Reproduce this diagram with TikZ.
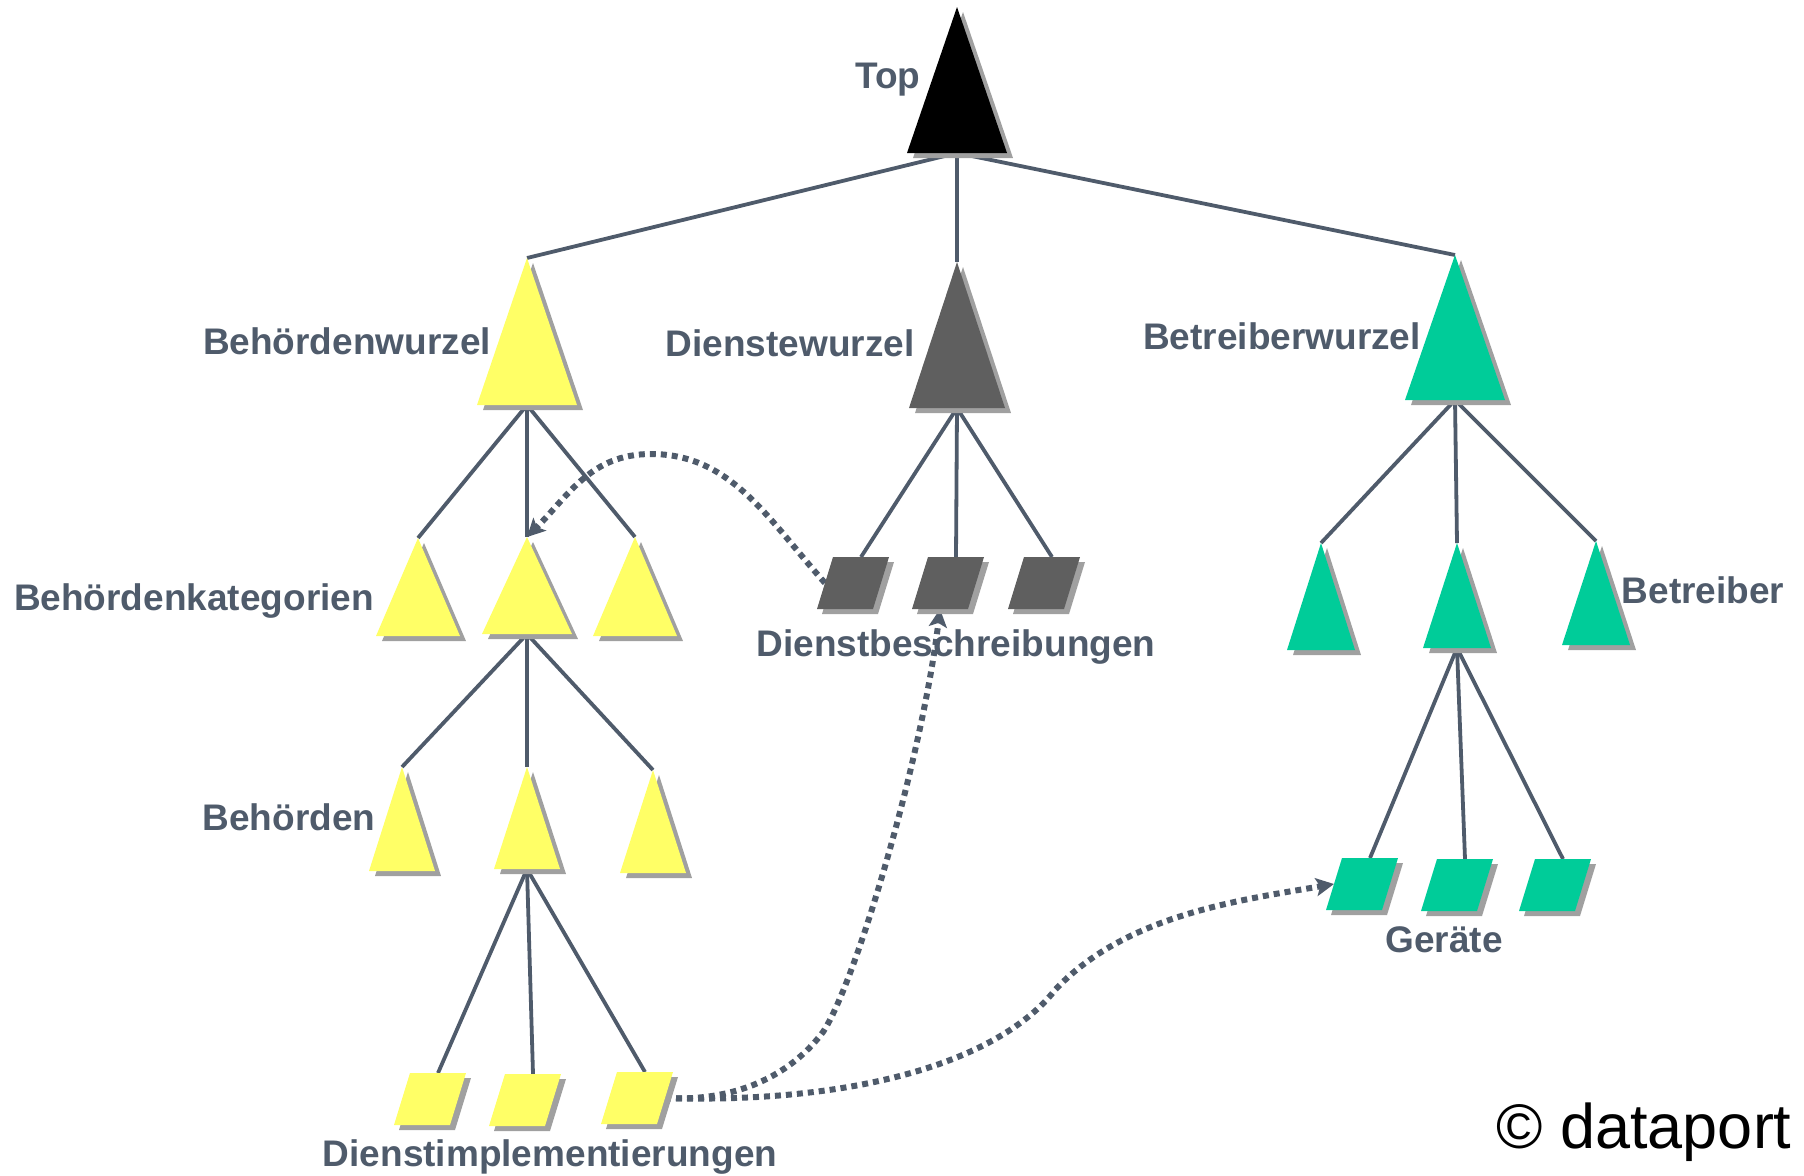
\documentclass[tikz,border=0pt]{standalone}
\usepackage{fontspec}
\setmainfont{Liberation Sans}
\usetikzlibrary{arrows.meta}
\definecolor{txtc}{HTML}{4F5B6B}
\definecolor{yel}{HTML}{FFFF66}
\definecolor{shd}{HTML}{A0A0A0}
\definecolor{dgr}{HTML}{5F5F5F}
\definecolor{grn}{HTML}{00CC99}
\pgfdeclarelayer{bg}
\pgfsetlayers{bg,main}
\newcommand\mytri[6]{% name, apex x, apex y, base y, half width, colour
  \fill[shd] (#2+6,#3+5) -- (#2+#5+6,#4+5) -- (#2-#5+6,#4+5) -- cycle;
  \fill[#6] (#2,#3) -- (#2+#5,#4) -- (#2-#5,#4) -- cycle;
  \coordinate (#1-t) at (#2,#3);
  \coordinate (#1-b) at (#2,#4);
}
\newcommand\mypara[4]{% name, top-left x, top y, colour
  \fill[shd] (#2+5,#3+5) -- (#2+61,#3+5) -- (#2+45,#3+57) -- (#2-11,#3+57) -- cycle;
  \fill[#4] (#2,#3) -- (#2+56,#3) -- (#2+40,#3+52) -- (#2-16,#3+52) -- cycle;
  \coordinate (#1-t) at (#2+28,#3);
  \coordinate (#1-l) at (#2-8,#3+26);
  \coordinate (#1-r) at (#2+48,#3+26);
  \coordinate (#1-b) at (#2+12,#3+52);
}
\tikzset{
  lbl/.style={font=\bfseries\fontsize{18.5pt}{20pt}\selectfont, text=txtc, anchor=base, inner sep=0pt},
  edge/.style={draw=txtc, line width=1.9pt},
  dotarrow/.style={draw=txtc, line width=3pt, dash pattern=on 3pt off 2.5pt,
     -{Stealth[length=9pt,width=9pt,inset=2pt]}},
}
\begin{document}
\begin{tikzpicture}[x=0.5pt,y=-0.5pt]
\useasboundingbox (0,0) rectangle (1804,1175);
% shapes
\mytri{top}{957}{7}{153}{50}{black}
\mytri{bw}{527}{258}{405}{50}{yel}
\mytri{dw}{957}{262}{408}{48}{dgr}
\mytri{btw}{1455}{255}{400}{50}{grn}
\mytri{kat1}{418}{538}{636}{42}{yel}
\mytri{kat2}{527}{537}{634}{45}{yel}
\mytri{kat3}{635}{537}{636}{42}{yel}
\mytri{beh1}{402}{767}{871}{33}{yel}
\mytri{beh2}{527}{767}{869}{33}{yel}
\mytri{beh3}{653}{770}{873}{33}{yel}
\mytri{btr1}{1321}{543}{650}{34}{grn}
\mytri{btr2}{1457}{543}{648}{34}{grn}
\mytri{btr3}{1596}{541}{645}{34}{grn}
\mypara{imp1}{410}{1073}{yel}
\mypara{imp2}{505}{1074}{yel}
\mypara{imp3}{617}{1072}{yel}
\mypara{ds1}{833}{557}{dgr}
\mypara{ds2}{928}{557}{dgr}
\mypara{ds3}{1024}{557}{dgr}
\mypara{ger1}{1342}{858}{grn}
\mypara{ger2}{1437}{859}{grn}
\mypara{ger3}{1535}{859}{grn}
\begin{pgfonlayer}{bg}
% labels
\node[lbl] (lTop) at (888,88) {Top};
\node[lbl] (lBw) at (347,354) {Behördenwurzel};
\node[lbl] (lDw) at (790,356) {Dienstewurzel};
\node[lbl] (lBtw) at (1282,349) {Betreiberwurzel};
\node[lbl] (lKat) at (194,610) {Behördenkategorien};
\node[lbl] (lDs) at (956,656) {Dienstbeschreibungen};
\node[lbl] (lBtr) at (1703,603) {Betreiber};
\node[lbl] (lBeh) at (289,830) {Behörden};
\node[lbl] (lGer) at (1444,952) {Geräte};
\node[lbl] (lImp) at (550,1166) {Dienstimplementierungen};
\node[font=\fontsize{31.5pt}{34pt}\selectfont, anchor=base, inner sep=0pt] (lCopy) at (1644,1148) {© dataport};
% tree edges
\foreach \c in {bw,dw,btw} \draw[edge] (top-b) -- (\c-t);
\foreach \c in {kat1,kat2,kat3} \draw[edge] (bw-b) -- (\c-t);
\foreach \c in {beh1,beh2,beh3} \draw[edge] (kat2-b) -- (\c-t);
\foreach \c in {imp1,imp2,imp3} \draw[edge] (beh2-b) -- (\c-t);
\foreach \c in {ds1,ds2,ds3} \draw[edge] (dw-b) -- (\c-t);
\foreach \c in {btr1,btr2,btr3} \draw[edge] (btw-b) -- (\c-t);
\foreach \c in {ger1,ger2,ger3} \draw[edge] (btr2-b) -- (\c-t);
% dotted references
\draw[dotarrow] (ds1-l) .. controls (768,519) and (731,454) .. (651,454)
   .. controls (591,454) and (569,495) .. (kat2-t);
\draw[dotarrow] (imp3-r) .. controls (735,1102) and (790,1076) .. (823,1032)
   .. controls (856,982) and (922,759) .. (ds2-b);
\draw[dotarrow] (imp3-r) .. controls (860,1104) and (1000,1060) .. (1055,990)
   .. controls (1125,915) and (1240,900) .. (ger1-l);
\end{pgfonlayer}
\end{tikzpicture}
\end{document}
